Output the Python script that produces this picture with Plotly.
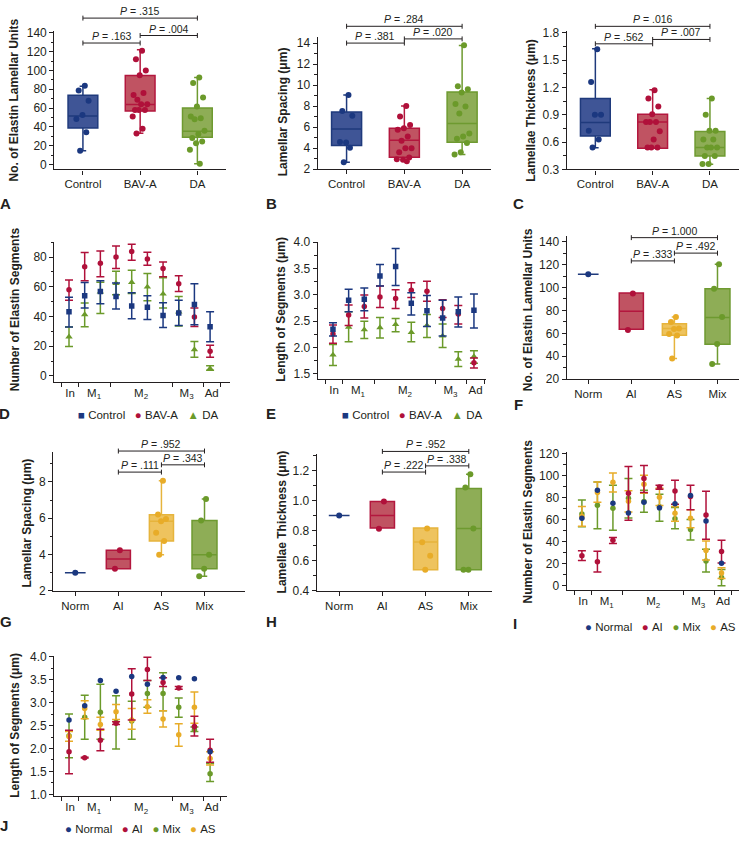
import plotly.graph_objects as go

W, H = 739, 843
FONT = "Arial, 'Liberation Sans', Helvetica, sans-serif"
INK = "#231f20"

# ======================= DATA =======================
groups3 = ["Control", "BAV-A", "DA"]
groups4 = ["Norm", "AI", "AS", "Mix"]
seg_labels = ["In", "M<sub>1</sub>", "M<sub>2</sub>", "M<sub>3</sub>", "Ad"]
seg_series3 = ["Control", "BAV-A", "DA"]
seg_series4 = ["Normal", "AI", "Mix", "AS"]

# box statistics: [lower whisker, Q1, median, Q3, upper whisker]
A_box = [[14.7, 38.8, 51.7, 73.7, 83.1],
         [33.2, 56.9, 63.9, 94.6, 122.0],
         [0.7, 29.0, 35.3, 60.0, 92.5]]
A_pts_control = [83.8, 78.6, 67.7, 52.7, 48.5, 34.2, 14.7]
A_pts_bav = [121, 112, 100, 95, 74, 76, 69, 64, 64, 58, 58, 58, 51, 38, 33]
A_pts_da = [92.5, 86.6, 71.2, 61.8, 51, 49.2, 48.2, 36, 32.5, 28.3, 24.4, 22.7, 15.7, 0.7]
A_pvals = [".163", ".004", ".315"]

B_box = [[2.66, 4.25, 5.81, 7.44, 9.06],
         [2.78, 3.13, 4.75, 5.90, 8.00],
         [3.40, 4.56, 6.34, 9.34, 13.78]]
B_pts_control = [9.06, 7.53, 7.09, 4.53, 4.59, 4.03, 2.66]
B_pts_bav = [8.0, 7.0, 6.2, 5.9, 5.75, 5.1, 4.7, 4.0, 4.0, 3.6, 3.1, 2.9, 2.95, 2.75]
B_pts_da = [13.8, 9.9, 9.6, 9.3, 8.2, 7.97, 7.3, 5.4, 5.1, 4.9, 4.5, 3.6, 3.4]
B_pvals = [".381", ".020", ".284"]

C_box = [[0.538, 0.668, 0.816, 1.079, 1.627],
         [0.534, 0.534, 0.820, 0.906, 1.176],
         [0.358, 0.448, 0.540, 0.718, 1.080]]
C_pts_control = [1.62, 1.26, 0.90, 0.90, 0.725, 0.63, 0.54]
C_pts_bav = [1.17, 1.08, 0.99, 0.906, 0.82, 0.82, 0.82, 0.72, 0.63, 0.54, 0.54, 0.54]
C_pts_da = [1.08, 0.90, 0.725, 0.725, 0.63, 0.63, 0.54, 0.54, 0.54, 0.448, 0.448, 0.36, 0.36]
C_pvals = [".562", ".007", ".016"]

# segment panels: mean, upper and lower error limits at 10 positions
seg_positions = [1, 2, 3, 4, 5, 6, 7, 8, 9, 10]
D_ctrl_mean = [43.1, 53.9, 56.8, 53.5, 47.1, 46.2, 40.7, 42.4, 48.0, 33.1]
D_ctrl_hi = [53.0, 62.8, 64.0, 62.5, 55.9, 54.0, 49.3, 51.0, 62.0, 43.1]
D_ctrl_lo = [32.9, 45.7, 48.6, 45.0, 38.5, 38.0, 32.5, 34.0, 34.5, 23.0]
D_bav_mean = [58.0, 73.4, 75.8, 80.0, 83.8, 78.7, 72.3, 62.1, 39.6, 16.6]
D_bav_hi = [64.5, 83.0, 84.0, 87.5, 88.6, 83.3, 76.7, 67.4, 45.7, 20.6]
D_bav_lo = [51.0, 64.0, 66.7, 72.3, 77.8, 74.5, 66.7, 56.8, 33.3, 12.6]
D_da_mean = [26.3, 41.3, 56.5, 62.3, 63.0, 59.9, 55.2, 43.1, 17.7, 4.9]
D_da_hi = [32.9, 49.0, 63.0, 70.5, 71.2, 69.0, 66.0, 53.5, 23.2, 6.9]
D_da_lo = [19.7, 33.1, 42.0, 54.6, 55.5, 50.6, 45.7, 33.6, 12.6, 3.8]

E_ctrl_mean = [2.35, 2.90, 2.92, 3.36, 3.54, 2.84, 2.70, 2.56, 2.68, 2.71]
E_ctrl_hi = [2.47, 3.11, 3.13, 3.58, 3.88, 3.04, 2.99, 2.90, 2.96, 3.02]
E_ctrl_lo = [2.22, 2.68, 2.70, 3.17, 3.18, 2.62, 2.40, 2.22, 2.39, 2.37]
E_bav_mean = [2.26, 2.62, 2.78, 2.96, 2.93, 3.09, 3.07, 2.74, 2.64, 1.71]
E_bav_hi = [2.43, 2.81, 3.00, 3.17, 3.10, 3.23, 3.26, 2.91, 2.80, 1.80]
E_bav_lo = [2.08, 2.42, 2.56, 2.76, 2.74, 2.95, 2.88, 2.57, 2.45, 1.61]
E_da_mean = [1.86, 2.39, 2.34, 2.38, 2.44, 2.29, 2.42, 2.22, 1.78, 1.83]
E_da_hi = [2.06, 2.68, 2.50, 2.57, 2.55, 2.48, 2.63, 2.45, 1.92, 1.94]
E_da_lo = [1.66, 2.11, 2.17, 2.18, 2.30, 2.11, 2.19, 2.00, 1.64, 1.70]

F_box = [[111.5, 111.5, 111.5, 111.5, 111.5],
         [63.5, 63.5, 79.3, 95.1, 95.1],
         [38.0, 58.4, 64.1, 68.4, 74.2],
         [33.2, 50.4, 73.9, 98.8, 120.3]]
F_pts = [[111.5], [94.8, 63.0], [74.2, 69.9, 64.1, 63.8, 59.3, 58.1, 38.0],
         [120.3, 98.8, 74.2, 50.7, 33.2]]
F_pvals = [".333", ".492", "1.000"]

G_box = [[2.99, 2.99, 2.99, 2.99, 2.99],
         [3.21, 3.21, 3.75, 4.24, 4.24],
         [3.99, 4.75, 5.83, 6.19, 8.07],
         [2.80, 3.21, 3.99, 5.87, 7.06]]
G_pts = [[2.99], [4.24, 3.21], [8.07, 6.2, 5.95, 5.83, 5.2, 4.75, 3.99],
         [7.06, 5.87, 3.99, 3.21, 2.8]]
G_pvals = [".111", ".343", ".952"]

H_box = [[0.901, 0.901, 0.901, 0.901, 0.901],
         [0.818, 0.818, 0.901, 0.993, 0.993],
         [0.540, 0.540, 0.725, 0.818, 0.818],
         [0.540, 0.540, 0.814, 1.080, 1.174]]
H_pts = [[0.901], [0.993, 0.812], [0.814, 0.723, 0.633, 0.54],
         [1.174, 1.087, 0.814, 0.54, 0.54]]
H_pvals = [".222", ".338", ".952"]

I_norm = [61.5, 86.9, 75.2, 66.3, 76.1, 71.0, 74.6, 82.1, 59.1, 20.6]
I_ai_mean = [27.5, 22.0, 41.5, 84.2, 97.6, 90.0, 86.3, 81.2, 64.5, 31.3]
I_ai_hi = [31.9, 31.6, 44.0, 108.7, 109.6, 91.6, 96.1, 91.6, 86.0, 41.5]
I_ai_lo = [23.0, 12.5, 38.5, 59.7, 85.0, 88.0, 74.3, 69.3, 42.4, 20.9]
I_mix_mean = [65.4, 73.4, 70.7, 79.7, 76.7, 72.0, 61.0, 51.3, 22.7, 7.5]
I_mix_hi = [78.2, 94.6, 91.6, 97.6, 87.0, 83.3, 71.3, 60.3, 33.4, 15.0]
I_mix_lo = [53.7, 52.0, 50.7, 61.8, 67.0, 58.8, 51.9, 41.8, 12.5, 0.0]
I_as_mean = [63.0, 85.0, 94.3, 77.0, 92.5, 80.6, 66.0, 61.5, 32.2, 11.6]
I_as_hi = [72.2, 94.6, 102.7, 86.6, 100.6, 88.7, 72.2, 69.3, 40.9, 16.4]
I_as_lo = [54.3, 76.1, 85.4, 67.2, 84.2, 73.1, 58.8, 52.8, 23.6, 6.6]

J_norm = [2.62, 2.93, 3.48, 3.25, 3.57, 3.40, 3.55, 3.54, 3.52, 1.93]
J_ai_mean = [1.93, 1.80, 2.18, 2.55, 3.19, 3.72, 3.44, 3.32, 2.48, 1.96]
J_ai_hi = [2.40, 1.81, 2.42, 2.58, 3.74, 3.99, 3.54, 3.35, 2.70, 2.20]
J_ai_lo = [1.45, 1.79, 1.95, 2.52, 2.62, 3.48, 3.35, 3.29, 2.27, 1.70]
J_mix_mean = [2.28, 2.68, 2.79, 2.57, 2.60, 3.20, 3.20, 2.90, 2.41, 1.45]
J_mix_hi = [2.75, 3.16, 3.40, 3.15, 3.03, 3.48, 3.65, 3.10, 2.47, 1.67]
J_mix_lo = [1.80, 2.20, 2.20, 1.99, 2.20, 2.90, 2.82, 2.68, 2.37, 1.28]
J_as_mean = [2.26, 2.87, 2.52, 2.80, 2.62, 2.91, 2.64, 2.30, 2.90, 1.78]
J_as_hi = [2.37, 3.04, 2.68, 2.96, 2.87, 3.06, 2.82, 2.54, 3.23, 1.93]
J_as_lo = [2.16, 2.65, 2.40, 2.63, 2.42, 2.77, 2.47, 2.05, 2.55, 1.64]

# ======================= STYLE =======================
BLUE_L, BLUE_F, BLUE_P = "#1f3a7c", "#3f5596", "#1b3880"
RED_L, RED_F, RED_P = "#b3173e", "#c05362", "#b0103a"
GRN_L, GRN_F, GRN_P = "#6e9a30", "#8ead56", "#6b9a2a"
YEL_L, YEL_F, YEL_P = "#e6b43c", "#eec35e", "#e8ac28"

# panel frames in pixels: x0, x1, ytop, ybottom, xrange, yrange
FR = {
    1: (54.3, 226.0, 25.0, 166.0, [-0.5, 2.5], [-5.24, 142.4]),
    2: (317.7, 491.0, 31.7, 165.7, [-0.5, 2.5], [2.0, 14.56]),
    3: (566.7, 738.6, 25.0, 166.0, [-0.5, 2.5], [0.3, 1.825]),
    4: (54.3, 230.0, 239.3, 381.7, [0.062, 11.27], [-4.0, 90.4]),
    5: (317.7, 485.7, 239.3, 379.0, [0.025, 10.75], [1.40, 4.013]),
    6: (566.7, 738.6, 233.3, 379.0, [-0.5, 3.49], [20.0, 145.2]),
    7: (53.3, 245.0, 453.3, 594.0, [-0.51, 3.94], [2.0, 9.63]),
    8: (316.7, 491.7, 455.0, 594.0, [-0.52, 3.53], [0.4, 1.309]),
    9: (566.7, 738.6, 453.3, 593.3, [0.02, 11.1], [-3.9, 121.5]),
    10: (54.3, 226.7, 660.0, 802.7, [0.06, 11.06], [0.957, 4.02]),
}

fig = go.Figure()
shapes, annotations = [], []


def ids(k):
    s = "" if k == 1 else str(k)
    return "x" + s, "y" + s, "xaxis" + s, "yaxis" + s


def jitter(n, amp):
    if n == 1:
        return [0.0]
    return [(((j + 1) * 0.6180339887) % 1.0 - 0.5) * amp for j in range(n)]


def setup(k, xtv, xtt, ytv, yminor, yfmt="", xminor=None):
    xa, ya, xk, yk = ids(k)
    fr = FR[k]
    common = dict(showline=True, linecolor=INK, linewidth=1.3, showgrid=False, zeroline=False,
                  fixedrange=True, tickcolor=INK, tickwidth=1.2, ticklen=4)
    xaxis = dict(common, domain=[fr[0] / W, fr[1] / W], range=fr[4], anchor=ya,
                 tickmode="array", tickvals=xtv, ticktext=xtt,
                 tickfont=dict(family=FONT, size=11.5, color=INK),
                 ticks="outside" if xminor is None else "")
    if xminor is not None:
        xaxis["minor"] = dict(tickmode="array", tickvals=xminor, ticks="outside",
                              ticklen=4, tickwidth=1.2, tickcolor=INK)
    yaxis = dict(common, domain=[1 - fr[3] / H, 1 - fr[2] / H], range=fr[5], anchor=xa,
                 tickmode="array", tickvals=ytv, ticks="outside", tickformat=yfmt,
                 tickfont=dict(family=FONT, size=12, color=INK),
                 minor=dict(tickmode="array", tickvals=yminor, ticks="outside",
                            ticklen=2.5, tickwidth=1, tickcolor=INK))
    fig.update_layout({xk: xaxis, yk: yaxis})


def box_panel(k, stats, pts, lines, fills, pcols, widths, amp):
    xa, ya, _, _ = ids(k)
    for i, (st, pp) in enumerate(zip(stats, pts)):
        fig.add_trace(go.Box(x=[i], lowerfence=[st[0]], q1=[st[1]], median=[st[2]],
                             q3=[st[3]], upperfence=[st[4]], orientation="v",
                             width=widths[i], whiskerwidth=0.22,
                             line=dict(color=lines[i], width=1.5), fillcolor=fills[i],
                             boxpoints=False, xaxis=xa, yaxis=ya, showlegend=False,
                             hoverinfo="skip"))
        offs = jitter(len(pp), amp)
        fig.add_trace(go.Scatter(x=[i + o for o in offs], y=pp, mode="markers",
                                 marker=dict(size=6, color=pcols[i]),
                                 xaxis=xa, yaxis=ya, showlegend=False, hoverinfo="skip"))


def err(k, means, lows, highs, color, symbol, size):
    xa, ya, _, _ = ids(k)
    ey = None
    if lows is not None:
        ey = dict(type="data", symmetric=False,
                  array=[h - m for h, m in zip(highs, means)],
                  arrayminus=[m - l for m, l in zip(means, lows)],
                  color=color, thickness=1.5, width=4)
    fig.add_trace(go.Scatter(x=seg_positions, y=means, mode="markers",
                             marker=dict(symbol=symbol, size=size, color=color),
                             error_y=ey, xaxis=xa, yaxis=ya, showlegend=False,
                             hoverinfo="skip"))


def brackets(k, pairs, levels, labels):
    xa, ya, _, _ = ids(k)
    fr = FR[k]
    yr = fr[5]
    ph = fr[3] - fr[2]
    tk = 2.5 / ph
    for (a, b), lev, lab in zip(pairs, levels, labels):
        fy = (lev - yr[0]) / (yr[1] - yr[0])
        ln = dict(color=INK, width=1)
        shapes.append(dict(type="line", xref=xa, yref=ya + " domain", x0=a, x1=b, y0=fy, y1=fy, line=ln))
        shapes.append(dict(type="line", xref=xa, yref=ya + " domain", x0=a, x1=a, y0=fy - tk, y1=fy + tk, line=ln))
        shapes.append(dict(type="line", xref=xa, yref=ya + " domain", x0=b, x1=b, y0=fy - tk, y1=fy + tk, line=ln))
        annotations.append(dict(xref=xa, yref=ya + " domain", x=(a + b) / 2, y=fy, yanchor="bottom",
                                xanchor="center", text="<i>P</i> = " + lab, showarrow=False,
                                font=dict(family=FONT, size=10.5, color=INK), yshift=-1))


def panel_text(k, px, py, text, size, bold=False, angle=0, xanchor="center"):
    """Text placed relative to panel k's axis domains (given a pixel target)."""
    xa, ya, _, _ = ids(k)
    fr = FR[k]
    fx = (px - fr[0]) / (fr[1] - fr[0])
    fy = (fr[3] - py) / (fr[3] - fr[2])
    t = "<b>" + text + "</b>" if bold else text
    annotations.append(dict(xref=xa + " domain", yref=ya + " domain", x=fx, y=fy, text=t,
                            showarrow=False, textangle=angle, xanchor=xanchor, yanchor="middle",
                            font=dict(family=FONT, size=size, color=INK)))


# ----- Panels A, B, C -----
cols3_l = [BLUE_L, RED_L, GRN_L]
cols3_f = [BLUE_F, RED_F, GRN_F]
cols3_p = [BLUE_P, RED_P, GRN_P]
w3 = [0.52, 0.52, 0.52]
box_panel(1, A_box, [A_pts_control, A_pts_bav, A_pts_da], cols3_l, cols3_f, cols3_p, w3, 0.28)
box_panel(2, B_box, [B_pts_control, B_pts_bav, B_pts_da], cols3_l, cols3_f, cols3_p, w3, 0.28)
box_panel(3, C_box, [C_pts_control, C_pts_bav, C_pts_da], cols3_l, cols3_f, cols3_p, w3, 0.28)
pairs3 = [(0, 1), (1, 2), (0, 2)]
brackets(1, pairs3, [129.2, 137.2, 155.7], A_pvals)
brackets(2, pairs3, [14.0, 14.4, 15.6], B_pvals)
brackets(3, pairs3, [1.68, 1.728, 1.872], C_pvals)
setup(1, [0, 1, 2], groups3, list(range(0, 141, 20)), list(range(10, 131, 20)))
setup(2, [0, 1, 2], groups3, list(range(2, 15, 2)), list(range(3, 14, 2)))
setup(3, [0, 1, 2], groups3, [0.3, 0.6, 0.9, 1.2, 1.5, 1.8],
      [0.45, 0.75, 1.05, 1.35, 1.65], yfmt=".1f")

# ----- Panels F, G, H -----
cols4_l = [BLUE_L, RED_L, YEL_L, GRN_L]
cols4_f = [BLUE_F, RED_F, YEL_F, GRN_F]
cols4_p = [BLUE_P, RED_P, YEL_P, GRN_P]
w4 = [0.48, 0.56, 0.56, 0.58]
box_panel(6, F_box, F_pts, cols4_l, cols4_f, cols4_p, w4, 0.3)
box_panel(7, G_box, G_pts, cols4_l, cols4_f, cols4_p, w4, 0.3)
box_panel(8, H_box, H_pts, cols4_l, cols4_f, cols4_p, w4, 0.3)
pairs4 = [(1, 2), (2, 3), (1, 3)]
brackets(6, pairs4, [123.2, 130.0, 143.5], F_pvals)
brackets(7, pairs4, [8.54, 8.94, 9.7], G_pvals)
brackets(8, pairs4, [1.189, 1.23, 1.326], H_pvals)
setup(6, [0, 1, 2, 3], groups4, list(range(20, 141, 20)), list(range(30, 131, 20)))
setup(7, [0, 1, 2, 3], groups4, [2, 4, 6, 8], [3, 5, 7, 9])
setup(8, [0, 1, 2, 3], groups4, [0.4, 0.6, 0.8, 1.0, 1.2], [0.5, 0.7, 0.9, 1.1, 1.3], yfmt=".1f")

# ----- Segment panels D, E, I, J -----
seg_lab_pos = [1.07, 2.6, 5.6, 8.5, 10.1]
seg_bounds = [0.52, 1.6, 3.62, 7.57, 9.55, 10.65]

err(4, D_da_mean, D_da_lo, D_da_hi, GRN_P, "triangle-up", 6.5)
err(4, D_bav_mean, D_bav_lo, D_bav_hi, RED_P, "circle", 5.5)
err(4, D_ctrl_mean, D_ctrl_lo, D_ctrl_hi, BLUE_P, "square", 5.5)
err(5, E_da_mean, E_da_lo, E_da_hi, GRN_P, "triangle-up", 6.5)
err(5, E_bav_mean, E_bav_lo, E_bav_hi, RED_P, "circle", 5.5)
err(5, E_ctrl_mean, E_ctrl_lo, E_ctrl_hi, BLUE_P, "square", 5.5)
err(9, I_mix_mean, I_mix_lo, I_mix_hi, GRN_P, "circle", 5.5)
err(9, I_as_mean, I_as_lo, I_as_hi, YEL_P, "circle", 5.5)
err(9, I_ai_mean, I_ai_lo, I_ai_hi, RED_P, "circle", 5.5)
err(9, I_norm, None, None, BLUE_P, "circle", 5.5)
err(10, J_mix_mean, J_mix_lo, J_mix_hi, GRN_P, "circle", 5.5)
err(10, J_as_mean, J_as_lo, J_as_hi, YEL_P, "circle", 5.5)
err(10, J_ai_mean, J_ai_lo, J_ai_hi, RED_P, "circle", 5.5)
err(10, J_norm, None, None, BLUE_P, "circle", 5.5)

setup(4, seg_lab_pos, seg_labels, [0, 20, 40, 60, 80], [10, 30, 50, 70, 90], xminor=seg_bounds)
setup(5, seg_lab_pos, seg_labels, [1.5, 2.0, 2.5, 3.0, 3.5, 4.0],
      [1.75, 2.25, 2.75, 3.25, 3.75], yfmt=".1f", xminor=seg_bounds)
setup(9, seg_lab_pos, seg_labels, list(range(0, 121, 20)), list(range(10, 111, 20)), xminor=seg_bounds)
setup(10, seg_lab_pos, seg_labels, [1.0, 1.5, 2.0, 2.5, 3.0, 3.5, 4.0],
      [1.25, 1.75, 2.25, 2.75, 3.25, 3.75], yfmt=".1f", xminor=seg_bounds)

# ----- axis titles -----
TS = 12
panel_text(1, 14, 96, "No. of Elastin Lamellar Units", TS, True, -90)
panel_text(2, 283, 108, "Lamellar Spacing (μm)", TS, True, -90)
panel_text(3, 531.5, 106, "Lamellae Thickness (μm)", TS, True, -90)
panel_text(4, 15, 308, "Number of Elastin Segments", TS, True, -90)
panel_text(5, 281.5, 308, "Length of Segments (μm)", TS, True, -90)
panel_text(6, 528, 309, "No. of Elastin Lamellar Units", TS, True, -90)
panel_text(7, 26.5, 525, "Lamellar Spacing (μm)", TS, True, -90)
panel_text(8, 281.5, 524, "Lamellae Thickness (μm)", TS, True, -90)
panel_text(9, 527.5, 524, "Number of Elastin Segments", TS, True, -90)
panel_text(10, 15, 730, "Length of Segments (μm)", TS, True, -90)

# ----- panel letters -----
for k, letter, px, py in [(1, "A", 6, 201), (2, "B", 271, 201), (3, "C", 518, 201),
                          (4, "D", 5, 414), (5, "E", 271, 414), (6, "F", 518, 405),
                          (7, "G", 6, 625), (8, "H", 271, 625), (9, "I", 515, 627),
                          (10, "J", 4, 832)]:
    panel_text(k, px, py, letter, 15, True)


# ----- legends -----
def legend_text(items):
    parts = []
    for sym, col, name in items:
        parts.append('<span style="color:%s">%s</span>&nbsp;%s' % (col, sym, name))
    return "&nbsp;&nbsp;&nbsp;".join(parts)


leg3 = legend_text([("■", BLUE_P, seg_series3[0]), ("●", RED_P, seg_series3[1]),
                    ("▲", GRN_P, seg_series3[2])])
leg4 = legend_text([("●", BLUE_P, seg_series4[0]), ("●", RED_P, seg_series4[1]),
                    ("●", GRN_P, seg_series4[2]), ("●", YEL_P, seg_series4[3])])
panel_text(4, 76, 415, leg3, 11.5, xanchor="left")
panel_text(5, 340, 415, leg3, 11.5, xanchor="left")
panel_text(9, 583, 631, leg4, 11.5, xanchor="left")
panel_text(10, 63, 836, leg4, 11.5, xanchor="left")

fig.update_layout(width=W, height=H, margin=dict(l=0, r=0, t=0, b=0),
                  paper_bgcolor="white", plot_bgcolor="rgba(0,0,0,0)",
                  showlegend=False, boxmode="overlay",
                  font=dict(family=FONT, size=11, color=INK),
                  shapes=shapes, annotations=annotations)

fig.write_html("out.html", config={"displayModeBar": False},
               post_script="document.body.style.margin='0px';document.body.style.overflow='hidden';")
